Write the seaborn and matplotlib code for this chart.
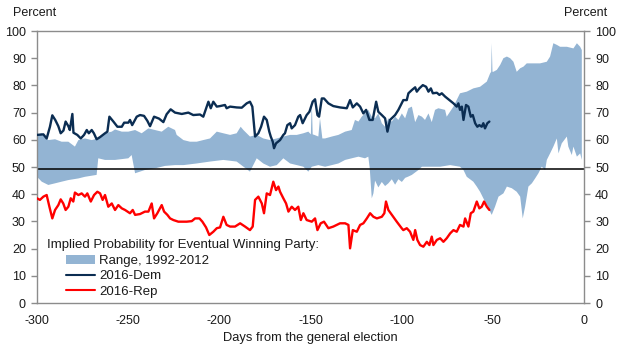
import numpy as np
import pandas as pd
import matplotlib
matplotlib.use("Agg")
import matplotlib.pyplot as plt
import seaborn as sns
from matplotlib.patches import Patch
from matplotlib.lines import Line2D

# ---------------- data ----------------
band_upper_days = [-300, -297.4, -293.8, -290.1, -286.5, -282.8, -279.2, -277.3, -273.7, -270.0, -266.4, -264.5,
                   -262.7, -259.0, -257.2, -253.5, -249.9, -246.2, -242.6, -238.9, -235.3, -231.6, -228.0, -224.3,
                   -223.4, -219.7, -216.1, -212.4, -208.8, -205.1, -201.4, -197.8, -194.1, -190.5, -188.3, -186.8,
                   -183.2, -179.5, -175.9, -172.2, -168.5, -164.9, -161.2, -157.5, -153.9, -151.2, -149.8, -149.3,
                   -148.8, -147.9, -145.7, -144.8, -143.5, -142.0, -138.3, -134.7, -131.0, -127.4, -125.6, -123.7,
                   -121.9, -120.1, -118.3, -116.4, -114.6, -112.8, -110.9, -109.1, -107.3, -105.4, -103.6, -101.8,
                   -99.9, -98.1, -96.3, -94.4, -92.6, -90.8, -88.9, -87.2, -85.3, -83.5, -81.7, -79.9, -76.2,
                   -75.3, -71.6, -68.0, -64.3, -60.7, -57.0, -53.3, -51.5, -50.9, -50.6, -50.2, -49.7, -47.8,
                   -46.0, -44.2, -42.3, -40.5, -38.7, -36.9, -35.0, -33.2, -31.4, -27.8, -24.1, -20.4, -18.6,
                   -16.8, -14.9, -13.1, -9.4, -5.8, -3.9, -2.1, -1.2]
band_upper = [61.8, 62.4, 59.9, 60.2, 59.3, 59.3, 57.5, 59.9, 60.5, 59.9, 60.5, 61.8,
              62.4, 63.0, 63.8, 63.0, 63.0, 63.6, 62.4, 64.2, 63.6, 63.0, 64.8, 63.6,
              61.8, 59.9, 59.3, 59.3, 59.9, 60.5, 63.0, 62.4, 61.8, 62.4, 64.8, 63.6,
              61.2, 61.8, 60.5, 59.9, 60.5, 61.2, 61.8, 61.8, 62.4, 63.0, 62.0, 74.6,
              62.0, 61.8, 61.2, 67.9, 60.5, 60.5, 61.2, 61.8, 63.0, 63.6, 67.3, 66.7,
              68.5, 69.7, 71.0, 68.5, 67.9, 69.7, 66.1, 64.8, 67.9, 66.7, 68.5, 67.3,
              69.7, 67.9, 71.6, 72.2, 66.5, 69.1, 68.5, 67.3, 69.7, 66.5, 71.0, 71.6, 71.0,
              68.5, 72.2, 77.1, 77.7, 78.9, 79.5, 81.4, 84.4, 85.0, 95.5, 85.0, 85.0, 85.7,
              87.5, 90.0, 90.6, 90.0, 88.7, 85.0, 86.3, 86.9, 88.1, 88.1, 88.1, 88.7, 90.6,
              95.5, 94.9, 94.2, 94.2, 93.6, 95.5, 94.2, 93.0]

band_lower_days = [-300, -297.4, -293.8, -290.1, -286.5, -282.8, -277.3, -273.7, -267.3, -266.4, -262.7, -257.2,
                   -249.9, -248.1, -246.2, -240.8, -235.3, -229.8, -224.3, -219.7, -212.4, -205.1, -197.8, -190.5,
                   -183.2, -179.5, -175.9, -172.2, -168.5, -164.9, -161.2, -157.5, -153.9, -151.2, -149.3, -145.7,
                   -142.0, -138.3, -134.7, -131.0, -127.4, -123.7, -120.1, -118.3, -117.5, -116.4, -115.5, -114.6,
                   -112.8, -110.9, -109.1, -107.3, -105.4, -103.6, -101.8, -99.9, -98.1, -96.3, -94.4, -92.6,
                   -90.8, -88.9, -85.3, -81.7, -78.9, -73.4, -68.0, -66.1, -64.3, -60.7, -58.8, -57.0, -55.2,
                   -53.3, -50.6, -48.8, -46.9, -44.2, -42.3, -39.6, -36.9, -35.0, -33.6, -32.3, -30.5, -28.6,
                   -26.8, -25.0, -23.2, -21.3, -20.4, -18.6, -16.8, -14.9, -14.0, -12.2, -9.4, -8.6, -6.7,
                   -5.8, -3.9, -2.1, -1.2]
band_lower = [46.4, 44.6, 43.4, 44.0, 44.6, 45.2, 45.8, 46.4, 47.1, 53.2, 52.6, 52.6,
              53.2, 54.4, 47.7, 48.9, 49.5, 50.4, 50.7, 50.7, 51.3, 52.0, 52.6, 52.0,
              48.3, 53.2, 51.3, 50.1, 50.7, 53.2, 51.3, 50.7, 50.1, 48.3, 50.1, 50.7,
              50.1, 50.7, 51.3, 52.6, 53.2, 53.8, 53.2, 53.8, 49.5, 38.5, 40.3, 45.0,
              42.5, 44.5, 43.0, 44.0, 45.5, 43.5, 45.5, 44.5, 46.0, 46.5, 47.1, 48.0,
              48.9, 50.1, 50.1, 50.1, 50.1, 50.7, 50.1, 48.9, 46.4, 44.6, 42.8, 40.9, 38.5,
              36.0, 32.4, 35.4, 39.1, 40.3, 42.8, 42.2, 40.9, 39.1, 31.1, 35.4, 42.8, 44.0,
              45.8, 47.7, 50.1, 48.9, 52.6, 55.0, 57.5, 60.5, 55.0, 58.7, 61.2, 57.5, 54.4,
              57.5, 53.8, 55.0, 52.6]

dem_days = [-300, -296.5, -294.7, -292.9, -291.6, -290.0, -288.3, -287.0, -285.5, -284.3, -282.8, -282.0,
            -280.6, -280.0, -277.9, -276.0, -274.2, -272.7, -271.6, -270.0, -268.8, -267.3, -265.4, -262.7,
            -261.4, -260.3, -258.1, -255.9, -253.5, -252.2, -249.9, -249.0, -247.8, -245.3, -243.5, -241.3,
            -239.5, -238.0, -235.8, -233.1, -230.7, -228.9, -226.7, -224.3, -220.6, -217.0, -214.3, -210.6,
            -208.8, -206.0, -204.7, -203.3, -201.4, -199.6, -196.9, -196.0, -194.1, -190.5, -187.7, -185.0,
            -183.2, -181.9, -180.4, -178.6, -177.1, -175.5, -174.0, -172.6, -171.8, -170.7, -170.0, -168.9,
            -166.7, -164.9, -164.0, -162.7, -161.2, -160.3, -158.5, -156.7, -155.7, -154.3, -152.1, -150.6,
            -148.8, -147.5, -146.2, -145.3, -143.8, -142.6, -140.2, -137.5, -133.8, -130.1, -128.3, -126.8,
            -124.6, -122.8, -121.0, -119.5, -117.7, -115.9, -114.0, -112.8, -110.9, -109.1, -107.8, -106.4,
            -103.6, -101.8, -99.1, -97.2, -96.3, -94.4, -92.6, -91.7, -90.3, -88.4, -86.6, -85.3, -84.0,
            -82.9, -80.7, -79.3, -78.0, -76.2, -73.8, -71.6, -69.8, -68.9, -68.0, -67.0, -66.1, -64.7,
            -63.4, -62.1, -61.0, -59.7, -58.5, -57.4, -56.1, -55.2, -54.3, -53.0, -51.9]
dem_vals = [61.8, 62.0, 60.5, 64.8, 69.0, 67.3, 65.0, 62.4, 63.4, 66.7, 65.0, 63.6,
            69.5, 62.6, 61.8, 60.5, 61.8, 63.6, 62.4, 63.6, 62.4, 60.2, 61.0, 62.4,
            63.0, 68.5, 66.7, 64.8, 64.8, 66.3, 66.3, 67.3, 65.4, 68.5, 69.1, 68.8,
            67.0, 65.0, 68.5, 67.8, 66.5, 69.4, 71.2, 70.0, 69.5, 70.0, 69.1, 69.3,
            68.5, 74.0, 71.6, 74.0, 72.2, 72.4, 72.8, 71.6, 72.2, 71.9, 71.8, 73.4,
            74.0, 72.2, 61.2, 62.4, 64.8, 68.5, 67.3, 63.0, 61.2, 59.3, 56.9, 58.7,
            59.9, 61.8, 62.4, 65.4, 66.1, 64.2, 65.4, 68.5, 69.1, 66.1, 69.1, 70.3,
            74.0, 74.9, 69.1, 68.5, 75.2, 75.2, 73.4, 72.4, 71.9, 71.6, 74.6, 71.9,
            73.4, 72.2, 69.7, 71.0, 67.3, 67.3, 74.0, 70.3, 69.1, 67.9, 63.0, 67.3,
            69.1, 71.0, 74.6, 74.6, 77.1, 78.3, 79.3, 77.7, 78.9, 80.1, 79.5, 77.7, 78.9,
            77.1, 77.3, 76.5, 77.1, 75.9, 74.6, 73.4, 72.2, 73.4, 71.0, 72.2, 67.3, 72.8,
            72.2, 68.5, 69.1, 66.1, 64.8, 65.4, 64.8, 66.1, 64.2, 66.1, 66.7]

rep_days = [-300, -298.4, -296.5, -294.7, -293.2, -291.6, -290.1, -288.3, -287.0, -285.6, -284.3, -282.8,
            -281.5, -280.1, -279.2, -277.3, -275.5, -273.7, -272.4, -270.5, -268.7, -266.9, -265.4, -264.0,
            -262.7, -260.9, -259.0, -257.2, -255.4, -253.5, -251.7, -249.0, -247.5, -246.2, -243.5, -240.8,
            -238.9, -237.1, -235.8, -234.0, -231.6, -230.3, -228.5, -227.0, -225.2, -222.5, -217.9, -215.1,
            -213.3, -210.9, -209.3, -207.3, -205.5, -203.3, -201.4, -199.6, -197.8, -196.0, -194.1, -191.4,
            -188.6, -185.9, -183.2, -181.7, -180.4, -178.6, -176.7, -175.5, -174.0, -172.2, -170.4, -168.9,
            -167.6, -166.7, -164.9, -163.4, -162.1, -160.3, -158.5, -156.7, -155.3, -153.9, -152.1, -149.3,
            -147.5, -146.2, -144.4, -142.6, -140.2, -137.5, -133.8, -131.0, -129.2, -128.3, -126.8, -124.6,
            -122.8, -121.0, -119.1, -117.3, -115.5, -113.6, -110.9, -109.5, -108.6, -107.3, -105.4, -102.7,
            -100.0, -99.1, -97.2, -95.4, -93.6, -92.6, -91.4, -89.9, -88.1, -86.2, -84.8, -83.5, -82.6,
            -80.7, -78.9, -77.1, -75.3, -73.4, -71.6, -69.8, -68.0, -66.1, -65.2, -63.4, -62.1, -60.7,
            -58.8, -57.4, -56.1, -54.8, -53.3, -51.9]
rep_vals = [38.5, 37.9, 39.1, 39.7, 35.4, 31.1, 34.2, 36.0, 38.1, 36.6, 34.2, 35.4,
            38.5, 37.3, 40.6, 39.7, 40.3, 39.1, 40.3, 37.3, 39.7, 40.9, 40.3, 37.9,
            39.7, 35.4, 36.6, 34.2, 36.0, 34.8, 34.2, 33.0, 34.2, 32.4, 32.7, 33.6,
            33.6, 36.6, 31.1, 33.0, 36.0, 33.6, 32.4, 31.1, 30.5, 29.9, 29.9, 30.1,
            31.1, 31.1, 29.9, 27.8, 25.0, 26.2, 27.5, 27.8, 31.7, 28.7, 28.1, 28.1,
            29.3, 28.1, 26.8, 28.1, 37.9, 39.1, 36.6, 33.0, 40.3, 39.7, 44.6, 41.5,
            42.8, 40.9, 38.5, 36.6, 33.6, 35.4, 34.2, 35.4, 30.5, 33.0, 30.5, 29.9,
            31.1, 26.8, 29.3, 29.9, 27.5, 28.1, 29.3, 29.3, 28.7, 20.1, 26.8, 26.2,
            28.7, 29.3, 31.1, 33.0, 31.7, 31.1, 31.7, 33.0, 37.3, 34.2, 32.4, 29.9,
            27.5, 26.8, 27.5, 26.2, 23.2, 26.8, 23.2, 21.3, 20.7, 22.5, 21.3, 24.4, 21.3,
            23.2, 23.8, 22.5, 23.8, 25.6, 26.8, 26.2, 28.7, 28.1, 31.1, 28.1, 33.0, 33.6,
            37.3, 34.8, 35.4, 37.3, 35.4, 34.2]

ref_level = 49.3
x_ticks = [-300, -250, -200, -150, -100, -50, 0]
y_ticks = [0, 10, 20, 30, 40, 50, 60, 70, 80, 90, 100]
legend_title = "Implied Probability for Eventual Winning Party:"
legend_labels = ["Range, 1992-2012", "2016-Dem", "2016-Rep"]

# ---------------- style ----------------
BAND = "#93B4D3"
DEM = "#0B2D52"
REP = "#FF0000"
SPINE = "#8C8C8C"
TXT = "#1A1A1A"

sns.set_style("white")
plt.rcParams["font.family"] = ["Liberation Sans", "DejaVu Sans"]
plt.rcParams["font.size"] = 9

fig = plt.figure(figsize=(6.2, 3.52), dpi=100)
ax = fig.add_axes([37 / 620, 1 - 303 / 352, (584 - 37) / 620, (303 - 31) / 352])

# band polygon: upper edge left->right, then lower edge right->left
poly_x = np.concatenate([band_upper_days, band_lower_days[::-1]])
poly_y = np.concatenate([band_upper, band_lower[::-1]])
ax.fill(poly_x, poly_y, color=BAND, lw=0, zorder=1)

ax.axhline(ref_level, color="black", lw=1.1, zorder=2)

dem_df = pd.DataFrame({"day": dem_days, "value": dem_vals})
rep_df = pd.DataFrame({"day": rep_days, "value": rep_vals})
sns.lineplot(data=dem_df, x="day", y="value", ax=ax, color=DEM, lw=1.7, estimator=None, zorder=3)
sns.lineplot(data=rep_df, x="day", y="value", ax=ax, color=REP, lw=1.7, estimator=None, zorder=3)

ax.set_xlim(-300, 0)
ax.set_ylim(0, 100)
ax.set_xticks(x_ticks)
ax.set_xticklabels([str(t) for t in x_ticks])
ax.set_yticks(y_ticks)
ax.set_xlabel("Days from the general election", fontsize=9.3, color=TXT, labelpad=3)
ax.set_ylabel("")

for s in ax.spines.values():
    s.set_visible(True)
    s.set_color(SPINE)
    s.set_linewidth(1.0)

ax.tick_params(axis="y", which="both", left=True, right=True, labelleft=True, labelright=True,
               direction="out", length=4, width=1, color=SPINE, labelsize=9, labelcolor=TXT, pad=4)
ax.tick_params(axis="x", bottom=True, length=0, labelsize=9, labelcolor=TXT, pad=9)

fig.text(35 / 620, 1 - 13 / 352, "Percent", ha="center", va="center", fontsize=9, color=TXT)
fig.text(586 / 620, 1 - 13 / 352, "Percent", ha="center", va="center", fontsize=9, color=TXT)

fig.text(47 / 620, 1 - 245 / 352, legend_title, ha="left", va="center", fontsize=9.5, color=TXT)
handles = [Patch(facecolor=BAND, edgecolor="none"),
           Line2D([0], [0], color=DEM, lw=1.5),
           Line2D([0], [0], color=REP, lw=1.5)]
fig.legend(handles, legend_labels, loc="upper left", bbox_to_anchor=(66 / 620, 1 - 255 / 352),
           frameon=False, fontsize=9.5, borderpad=0, borderaxespad=0, handlelength=2.2,
           handletextpad=0.3, labelspacing=0.22, labelcolor=TXT)

fig.savefig("out.png", dpi=100)
